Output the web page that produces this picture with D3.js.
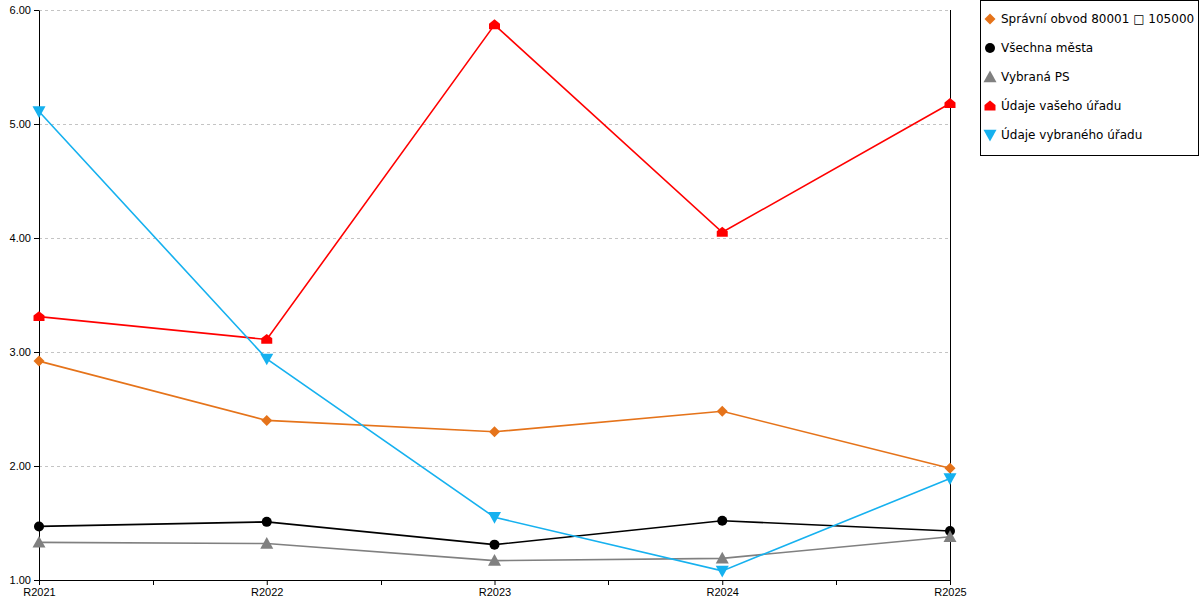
<!DOCTYPE html>
<html>
<head>
<meta charset="utf-8">
<script src="https://cdn.jsdelivr.net/npm/d3@7"></script>
<style>
  body { margin: 0; background: #fff; }
  svg { font-family: "DejaVu Sans", Verdana, sans-serif; }
</style>
</head>
<body>
<div id="chart"></div>
<script>
const categories = ['R2021', 'R2022', 'R2023', 'R2024', 'R2025'];
const yTicks = [1, 2, 3, 4, 5, 6];

const spravniObvod = [2.92, 2.40, 2.30, 2.48, 1.98];
const vsechnaMesta = [1.47, 1.51, 1.31, 1.52, 1.43];
const vybranaPS = [1.33, 1.32, 1.17, 1.19, 1.38];
const vasehoUradu = [3.31, 3.11, 5.87, 4.05, 5.18];
const vybranehoUradu = [5.11, 2.94, 1.55, 1.08, 1.89];

const seriesNames = [
  'Správní obvod 80001 □ 105000',
  'Všechna města',
  'Vybraná PS',
  'Údaje vašeho úřadu',
  'Údaje vybraného úřadu'
];
const seriesValues = [spravniObvod, vsechnaMesta, vybranaPS, vasehoUradu, vybranehoUradu];
const seriesColors = ['#e5731a', '#000000', '#808080', '#ff0000', '#16b1ef'];
const seriesShapes = ['diamond', 'circle', 'triangle', 'house', 'triangleDown'];

const W = 1200, H = 600;
const margin = { top: 10, left: 39 };
const width = 911;
const height = 570;

const svg = d3.select('#chart').append('svg').attr('width', W).attr('height', H);
const g = svg.append('g').attr('transform', `translate(${margin.left},${margin.top})`);

const x = d3.scalePoint().domain(categories).range([0, width]);
const y = d3.scaleLinear().domain([1, 6]).range([height, 0]);

// grid
g.append('g').selectAll('line').data(yTicks.filter(d => d > 1)).enter().append('line')
  .attr('x1', 0).attr('x2', width)
  .attr('y1', d => y(d) + 0.5).attr('y2', d => y(d) + 0.5)
  .attr('stroke', '#c4c4c4').attr('stroke-dasharray', '3,3');

// y axis
const yAxis = g.append('g').call(d3.axisLeft(y).tickValues(yTicks).tickFormat(d3.format('.2f')).tickSize(5).tickSizeOuter(0));
yAxis.selectAll('text').style('font-size', '11px').attr('fill', '#000');
yAxis.select('.domain').attr('stroke', '#000');

// right line
g.append('line').attr('x1', width + 0.5).attr('x2', width + 0.5).attr('y1', 0).attr('y2', height)
  .attr('stroke', '#000');

// x axis
const xAxis = g.append('g').attr('transform', `translate(0,${height})`)
  .call(d3.axisBottom(x).tickSize(5).tickSizeOuter(0).tickPadding(3));
xAxis.selectAll('text').style('font-size', '11px').attr('fill', '#000');
const step = x.step();
xAxis.selectAll('.minor').data(categories.slice(1)).enter().append('line')
  .attr('x1', d => Math.round(x(d) - step / 2) + 0.5).attr('x2', d => Math.round(x(d) - step / 2) + 0.5)
  .attr('y1', 0).attr('y2', 5).attr('stroke', '#000');

function shapePath(shape, s) {
  if (shape === 'diamond') return `M0,${-s}L${s},0L0,${s}L${-s},0Z`;
  if (shape === 'circle') return d3.symbol(d3.symbolCircle, Math.PI * s * s)();
  if (shape === 'triangle') return `M0,${-s}L${s},${s * 0.8}L${-s},${s * 0.8}Z`;
  if (shape === 'triangleDown') return `M0,${s}L${s},${-s * 0.8}L${-s},${-s * 0.8}Z`;
  if (shape === 'house') return `M0,${-s}L${s},${-s * 0.2}L${s},${s * 0.8}L${-s},${s * 0.8}L${-s},${-s * 0.2}Z`;
}
const shapeSize = { diamond: 5.5, circle: 5, triangle: 6.5, triangleDown: 6.5, house: 5.5 };

const line = d3.line().x((d, i) => x(categories[i])).y(d => y(d));

seriesValues.forEach((vals, si) => {
  g.append('path').datum(vals).attr('d', line)
    .attr('fill', 'none').attr('stroke', seriesColors[si]).attr('stroke-width', 1.6);
});
seriesValues.forEach((vals, si) => {
  g.selectAll(`.m${si}`).data(vals).enter().append('path')
    .attr('transform', (d, i) => `translate(${x(categories[i])},${y(d)})`)
    .attr('d', shapePath(seriesShapes[si], shapeSize[seriesShapes[si]]))
    .attr('fill', seriesColors[si]);
});

// legend
const lg = svg.append('g');
lg.append('rect').attr('x', 980.5).attr('y', 0.5).attr('width', 218).attr('height', 155)
  .attr('fill', '#fff').attr('stroke', '#000');
seriesNames.forEach((name, i) => {
  const cy = 19 + i * 29;
  lg.append('path').attr('transform', `translate(990,${cy})`)
    .attr('d', shapePath(seriesShapes[i], shapeSize[seriesShapes[i]]))
    .attr('fill', seriesColors[i]);
  lg.append('text').attr('x', 1001).attr('y', cy + 4).style('font-size', '12px').text(name);
});
</script>
</body>
</html>
